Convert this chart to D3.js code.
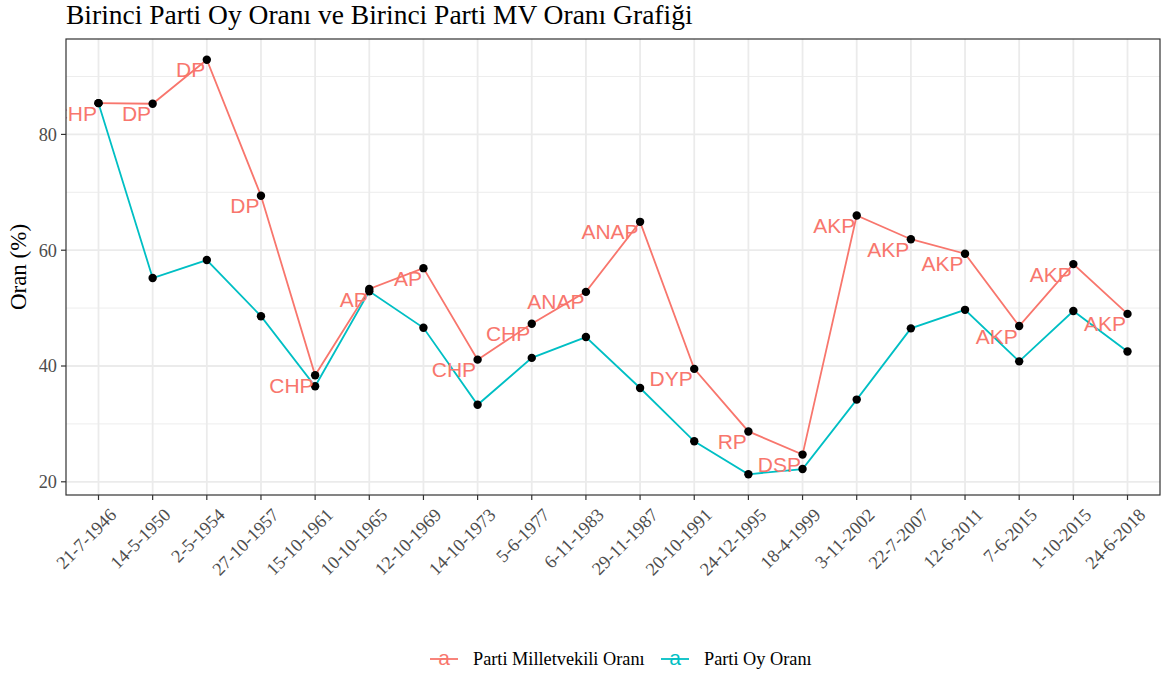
<!DOCTYPE html>
<html><head><meta charset="utf-8">
<script src="https://cdn.jsdelivr.net/npm/d3@7"></script>
<style>body{margin:0;background:#fff}svg{display:block}</style>
</head><body><svg id="c" width="1168" height="675"></svg>
<script>
const dates = ["21-7-1946","14-5-1950","2-5-1954","27-10-1957","15-10-1961","10-10-1965","12-10-1969","14-10-1973","5-6-1977","6-11-1983","29-11-1987","20-10-1991","24-12-1995","18-4-1999","3-11-2002","22-7-2007","12-6-2011","7-6-2015","1-10-2015","24-6-2018"];
const parties = ["CHP","DP","DP","DP","CHP","AP","AP","CHP","CHP","ANAP","ANAP","DYP","RP","DSP","AKP","AKP","AKP","AKP","AKP","AKP"];
const mvRate = [85.4,85.3,92.9,69.4,38.4,53.3,56.9,41.1,47.3,52.8,64.9,39.5,28.7,24.7,66.0,61.9,59.4,46.9,57.6,49.0];
const voteRate = [85.4,55.2,58.3,48.6,36.5,52.9,46.6,33.3,41.4,45.0,36.2,27.0,21.3,22.2,34.2,46.5,49.7,40.8,49.5,42.5];
const yTicks = [20,40,60,80];
const yMinor = [30,50,70,90];
const seriesNames = ["Parti Milletvekili Oranı","Parti Oy Oranı"];
const seriesColors = ["#F8766D","#00BFC4"];

const svg = d3.select("#c");
const L=66,R=1160,T=39,B=495;
const serif = "Liberation Serif, Times New Roman, serif";
const sans = "Liberation Sans, Arial, sans-serif";
const x = d3.scalePoint().domain(dates).range([L,R]).padding(0.6);
const all = mvRate.concat(voteRate);
const [mn,mx] = d3.extent(all);
const pad = (mx-mn)*0.05;
const y = d3.scaleLinear().domain([mn-pad,mx+pad]).range([B,T]);

svg.append("text").attr("x",66).attr("y",24).attr("font-family",serif)
  .attr("font-size",27.5).attr("fill","#000").text("Birinci Parti Oy Oranı ve Birinci Parti MV Oranı Grafiği");

svg.append("defs").append("clipPath").attr("id","pc").append("rect").attr("x",L).attr("y",T).attr("width",R-L).attr("height",B-T);

const g = svg.append("g");
g.append("rect").attr("x",L).attr("y",T).attr("width",R-L).attr("height",B-T).attr("fill","#fff");
g.selectAll(".ymin").data(yMinor).join("line").attr("x1",L).attr("x2",R).attr("y1",d=>y(d)).attr("y2",d=>y(d)).attr("stroke","#EBEBEB").attr("stroke-width",0.9);
g.selectAll(".ymaj").data(yTicks).join("line").attr("x1",L).attr("x2",R).attr("y1",d=>y(d)).attr("y2",d=>y(d)).attr("stroke","#EBEBEB").attr("stroke-width",1.8);
g.selectAll(".xmaj").data(dates).join("line").attr("x1",d=>x(d)).attr("x2",d=>x(d)).attr("y1",T).attr("y2",B).attr("stroke","#EBEBEB").attr("stroke-width",1.8);

const plot = svg.append("g").attr("clip-path","url(#pc)");
const line = d3.line().x((d,i)=>x(dates[i])).y(d=>y(d));
[mvRate,voteRate].forEach((s,k)=>{
  plot.append("path").datum(s).attr("d",line).attr("fill","none").attr("stroke",seriesColors[k]).attr("stroke-width",1.8);
});
[mvRate,voteRate].forEach(s=>{
  plot.selectAll(null).data(s).join("circle").attr("cx",(d,i)=>x(dates[i])).attr("cy",d=>y(d)).attr("r",4.2).attr("fill","#000");
});
plot.selectAll(".lbl").data(mvRate).join("text").attr("x",(d,i)=>x(dates[i])-1.5).attr("y",d=>y(d)+17.5)
  .attr("text-anchor","end").attr("font-family",sans).attr("font-size",21)
  .attr("fill","#F8766D").text((d,i)=>parties[i]);

svg.append("rect").attr("x",L).attr("y",T).attr("width",R-L).attr("height",B-T).attr("fill","none").attr("stroke","#333").attr("stroke-width",1.2);

// y axis
const ya = svg.append("g");
ya.selectAll("line").data(yTicks).join("line").attr("x1",L-5).attr("x2",L).attr("y1",d=>y(d)).attr("y2",d=>y(d)).attr("stroke","#333").attr("stroke-width",1.2);
ya.selectAll("text").data(yTicks).join("text").attr("x",L-9).attr("y",d=>y(d)).attr("dy","0.35em").attr("text-anchor","end")
  .attr("font-family",serif).attr("font-size",18.3).attr("fill","#4D4D4D").text(d=>d);
svg.append("text").attr("transform",`translate(26,${(T+B)/2}) rotate(-90)`).attr("text-anchor","middle")
  .attr("font-family",serif).attr("font-size",23).attr("fill","#000").text("Oran (%)");

// x axis
const xa = svg.append("g");
xa.selectAll("line").data(dates).join("line").attr("x1",d=>x(d)).attr("x2",d=>x(d)).attr("y1",B).attr("y2",B+5).attr("stroke","#333").attr("stroke-width",1.2);
xa.selectAll("text").data(dates).join("text").attr("transform",d=>`translate(${x(d)+10},${B+12}) rotate(-45)`)
  .attr("text-anchor","end").attr("dy","0.7em").attr("font-family",serif).attr("font-size",18.3).attr("fill","#4D4D4D").text(d=>d);

// legend
const lg = svg.append("g");
const keyX = [430,661], txtX=[473,704], ly=659;
seriesNames.forEach((n,k)=>{
  lg.append("line").attr("x1",keyX[k]).attr("x2",keyX[k]+28).attr("y1",ly).attr("y2",ly).attr("stroke",seriesColors[k]).attr("stroke-width",1.8);
  lg.append("text").attr("x",keyX[k]+14).attr("y",ly+6).attr("text-anchor","middle").attr("font-family",sans).attr("font-size",21).attr("fill",seriesColors[k]).text("a");
  lg.append("text").attr("x",txtX[k]).attr("y",ly).attr("dy","0.35em").attr("font-family",serif).attr("font-size",18.3).attr("fill","#000").text(n);
});
</script></body></html>
